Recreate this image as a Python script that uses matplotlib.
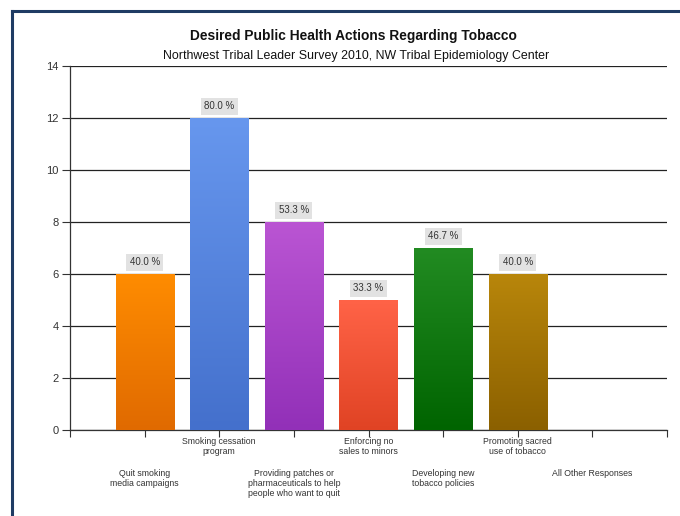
import matplotlib
matplotlib.use("Agg")
import matplotlib.pyplot as plt
import numpy as np
from matplotlib.colors import LinearSegmentedColormap
from matplotlib.lines import Line2D

plt.rcParams['font.family'] = ['Liberation Sans', 'DejaVu Sans']

categories = ["Quit smoking\nmedia campaigns",
              "Smoking cessation\nprogram",
              "Providing patches or\npharmaceuticals to help\npeople who want to quit",
              "Enforcing no\nsales to minors",
              "Developing new\ntobacco policies",
              "Promoting sacred\nuse of tobacco",
              "All Other Responses"]
values = [6, 12, 8, 5, 7, 6, 0]
pct_labels = ["40.0 %", "80.0 %", "53.3 %", "33.3 %", "46.7 %", "40.0 %", None]
top_colors = ["#FF8C00", "#6797EE", "#BA55D3", "#FF6347", "#228B22", "#B8860B", "#999999"]
bot_colors = ["#E06A00", "#4470CC", "#9230B8", "#E04324", "#006400", "#8B6000", "#777777"]
yticks = [0, 2, 4, 6, 8, 10, 12, 14]

fig = plt.figure(figsize=(6.8, 5.16), dpi=100)
ax = fig.add_axes([70/680, 1-430/516, (667-70)/680, (430-66)/516])

x = np.arange(1, len(categories)+1)
width = 0.78
ax.set_xlim(0, 8)
ax.set_ylim(0, 14)

bars = ax.bar(x, values, width=width, color="none", edgecolor="none", zorder=3)
grad = np.linspace(0, 1, 256).reshape(-1, 1)
for b, c1, c2 in zip(bars, top_colors, bot_colors):
    h = b.get_height()
    if h <= 0:
        continue
    cmap = LinearSegmentedColormap.from_list("g", [c2, c1])
    x0 = b.get_x()
    im = ax.imshow(grad, extent=[x0, x0 + b.get_width(), 0, h], origin="lower",
                   cmap=cmap, aspect="auto", zorder=3, interpolation="bicubic")
    im.set_clip_path(b)

for xi, v, lab in zip(x, values, pct_labels):
    if lab is None:
        continue
    ax.annotate(lab, (xi, v), xytext=(0, 8.5), textcoords="offset points",
                ha="center", va="center", fontsize=7, color="#333333", zorder=5,
                bbox=dict(boxstyle="square,pad=0.35", fc="#E2E2E2", ec="none"))

ax.set_yticks(yticks)
ax.set_yticklabels([str(t) for t in yticks], fontsize=8, color="#333333")
ax.yaxis.grid(True, color="#222222", linewidth=0.9, zorder=1)
ax.set_axisbelow(True)
ax.tick_params(axis="y", length=6, width=0.8, color="#333333", pad=2)

ax.set_xticks(np.arange(0, 9))
ax.set_xticklabels([])
ax.tick_params(axis="x", length=5, width=0.8, color="#333333")

for s in ["top", "right"]:
    ax.spines[s].set_visible(False)
ax.spines["left"].set_color("#333333")
ax.spines["bottom"].set_color("#333333")
ax.spines["left"].set_linewidth(0.9)
ax.spines["bottom"].set_linewidth(0.9)

trans = ax.get_xaxis_transform()
for i, (xi, cat) in enumerate(zip(x, categories)):
    off = -5 if i % 2 == 1 else -28
    ax.annotate(cat, (xi, 0), xycoords=trans, xytext=(0, off), textcoords="offset points",
                ha="center", va="top", fontsize=6.3, color="#333333", linespacing=1.15)

fig.text(353/680, 1-36/516, "Desired Public Health Actions Regarding Tobacco",
         ha="center", va="center", fontsize=9.9, fontweight="bold", color="#111111")
fig.text(356/680, 1-56/516, "Northwest Tribal Leader Survey 2010, NW Tribal Epidemiology Center",
         ha="center", va="center", fontsize=8.9, color="#111111")

frame_col = "#1F3C64"
fig.add_artist(Line2D([12/680, 12/680], [0, 1-11/516], transform=fig.transFigure,
                      color=frame_col, linewidth=2.2))
fig.add_artist(Line2D([12/680, 1], [1-11/516, 1-11/516], transform=fig.transFigure,
                      color=frame_col, linewidth=2.2))

fig.savefig("out.png", dpi=100)
